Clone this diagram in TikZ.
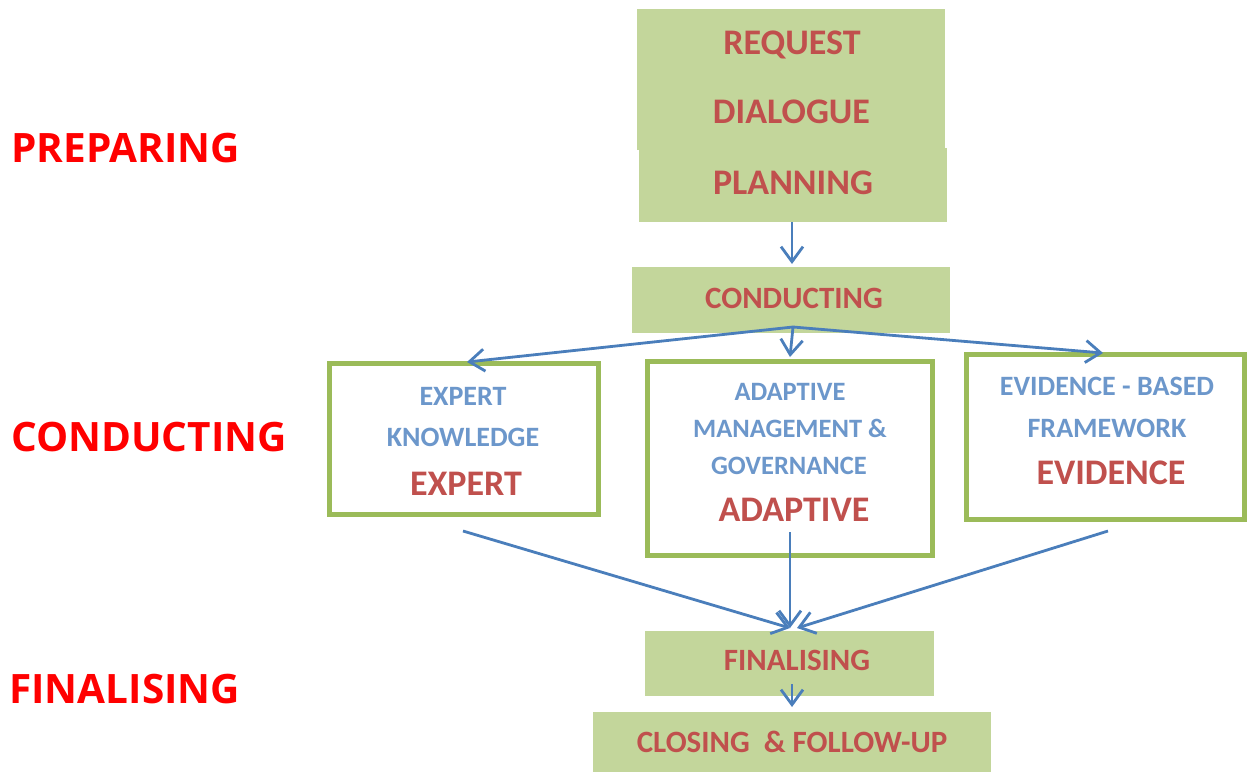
\documentclass[tikz,border=0pt]{standalone}
\usepackage{fontspec}
\setmainfont{Carlito}
\newfontfamily\phasefont{Open Sans}
\usetikzlibrary{arrows.meta,calc}
\definecolor{boxfill}{HTML}{C3D69B}
\definecolor{boxedge}{HTML}{9BBB59}
\definecolor{darkred}{HTML}{C0504D}
\definecolor{lblue}{HTML}{6C97CB}
\definecolor{arrowblue}{HTML}{4A7EBB}
\definecolor{phasered}{HTML}{FF0000}
\begin{document}
\begin{tikzpicture}[x=1pt,y=-1pt,
  fillbox/.style={fill=boxfill, draw=none, inner sep=0pt},
  edgebox/.style={draw=boxedge, line width=5pt, fill=white, inner sep=0pt},
  bigred/.style={text=darkred, font=\bfseries\fontsize{36}{40}\selectfont, inner sep=0pt, text height=23pt, text depth=0pt},
  midred/.style={text=darkred, font=\bfseries\fontsize{31}{36}\selectfont, inner sep=0pt, text height=20pt, text depth=0pt},
  bluetxt/.style={text=lblue, font=\bfseries\fontsize{28}{32}\selectfont, inner sep=0pt, text height=18pt, text depth=0pt},
  bluesm/.style={text=lblue, font=\bfseries\fontsize{26.5}{30}\selectfont, inner sep=0pt, text height=17pt, text depth=0pt},
  phase/.style={text=phasered, font=\phasefont\bfseries\fontsize{40.5}{46}\selectfont, inner sep=0pt, anchor=west, text height=29pt, text depth=0pt},
  conn/.style={draw=arrowblue, line width=2.8pt, -{Straight Barb[length=15pt,width=22pt]}}
]
\useasboundingbox (0,0) rectangle (1247,772);

% phase labels
\node[phase] (lprep) at (11,147.5) {PREPARING};
\node[phase] (lcond) at (11,437) {CONDUCTING};
\node[phase] (lfin) at (9,689) {FINALISING};

% top boxes
\node[fillbox, minimum width=308pt, minimum height=141pt] (req) at (791,79.5) {};
\node[fillbox, minimum width=308pt, minimum height=74pt] (plan) at (793,185) {};
\node[bigred] (treq) at (792,43) {REQUEST};
\node[bigred] (tdia) at (791.5,112) {DIALOGUE};
\node[bigred] (tplan) at (793,183) {PLANNING};

% conducting
\node[fillbox, minimum width=318pt, minimum height=66pt] (cond) at (791,300) {};
\node[midred] (tcond) at (794,298) {CONDUCTING};

% three outlined boxes
\node[edgebox, minimum width=269pt, minimum height=151pt] (expert) at (463.5,438.5) {};
\node[bluetxt] (te1) at (463,396) {EXPERT};
\node[bluetxt] (te2) at (463,437) {KNOWLEDGE};
\node[bigred] (te3) at (466,484) {EXPERT};

\node[edgebox, minimum width=285pt, minimum height=194pt] (adapt) at (789.5,458) {};
\node[bluesm] (ta1) at (790,392) {ADAPTIVE};
\node[bluesm] (ta2) at (790,429) {MANAGEMENT \&};
\node[bluesm] (ta3) at (789,466) {GOVERNANCE};
\node[bigred] (ta4) at (794,510) {ADAPTIVE};

\node[edgebox, minimum width=278pt, minimum height=165pt] (evid) at (1105,436.5) {};
\node[bluetxt] (tv1) at (1107,386) {EVIDENCE - BASED};
\node[bluetxt] (tv2) at (1107,428) {FRAMEWORK};
\node[bigred] (tv3) at (1111,473) {EVIDENCE};

% finalising and closing
\node[fillbox, minimum width=289pt, minimum height=65pt] (fin) at (789.5,663.5) {};
\node[midred] (tfin) at (797,660) {FINALISING};
\node[fillbox, minimum width=398pt, minimum height=60pt] (close) at (792,741.5) {};
\node[midred] (tclose) at (792,742) {CLOSING\ \ \& FOLLOW-UP};

% connector points
\coordinate (pout) at (792,222);
\coordinate (cin) at (792,264);
\coordinate (split) at (793,327);
\coordinate (ein) at (467,362);
\coordinate (ain) at (790,357);
\coordinate (vin) at (1103,353);
\coordinate (eout) at (463,531);
\coordinate (aout) at (790,532);
\coordinate (vout) at (1108,531);
\coordinate (fin1) at (790,628);
\coordinate (fin2) at (797,628);
\coordinate (fout) at (792,684);
\coordinate (clin) at (792,707);

% connectors
\draw[conn] (pout) -- (cin);
\draw[conn] (split) -- (ein);
\draw[conn] (split) -- (ain);
\draw[conn] (split) -- (vin);
\draw[conn] (eout) -- (fin1);
\draw[conn] (aout) -- (fin1);
\draw[conn] (vout) -- (fin2);
\draw[conn] (fout) -- (clin);
\end{tikzpicture}
\end{document}
